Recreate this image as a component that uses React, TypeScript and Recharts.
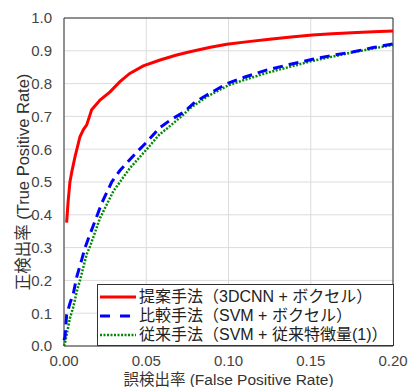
import React from "react";
import {
  LineChart,
  Line,
  XAxis,
  YAxis,
  CartesianGrid,
  ReferenceArea,
} from "recharts";

// ROC曲線のデータ (FPR, TPR)
const proposedFpr = [0.0016, 0.0025, 0.0036, 0.0047, 0.0067, 0.0097, 0.0118, 0.0138, 0.0155, 0.0168, 0.0219, 0.028, 0.034, 0.04, 0.0482, 0.0584, 0.0685, 0.0766, 0.089, 0.099, 0.112, 0.125, 0.138, 0.151, 0.163, 0.175, 0.188, 0.2];
const proposedTpr = [0.376, 0.44, 0.5, 0.53, 0.577, 0.638, 0.66, 0.674, 0.7, 0.72, 0.75, 0.775, 0.806, 0.831, 0.854, 0.872, 0.887, 0.897, 0.911, 0.92, 0.928, 0.935, 0.942, 0.948, 0.952, 0.955, 0.958, 0.96];

const svmVoxelFpr = [0.0, 0.0006, 0.0016, 0.0036, 0.0057, 0.0077, 0.0107, 0.0128, 0.015, 0.0188, 0.0229, 0.029, 0.034, 0.038, 0.044, 0.05, 0.058, 0.065, 0.0725, 0.08, 0.0868, 0.099, 0.11, 0.123, 0.137, 0.151, 0.163, 0.176, 0.188, 0.2];
const svmVoxelTpr = [0.018, 0.028, 0.095, 0.13, 0.16, 0.21, 0.262, 0.3, 0.33, 0.38, 0.435, 0.5, 0.535, 0.557, 0.59, 0.62, 0.665, 0.69, 0.712, 0.745, 0.765, 0.8, 0.82, 0.841, 0.858, 0.874, 0.886, 0.897, 0.91, 0.921];

const svmFeatFpr = [0.0, 0.0006, 0.0036, 0.0057, 0.0077, 0.0097, 0.0138, 0.0158, 0.0219, 0.03, 0.034, 0.04, 0.05, 0.058, 0.0624, 0.0725, 0.0766, 0.0868, 0.1, 0.112, 0.125, 0.138, 0.15, 0.163, 0.175, 0.188, 0.2];
const svmFeatTpr = [0.0, 0.009, 0.085, 0.12, 0.165, 0.2, 0.28, 0.303, 0.39, 0.472, 0.5, 0.542, 0.598, 0.645, 0.662, 0.705, 0.725, 0.76, 0.795, 0.815, 0.835, 0.852, 0.868, 0.882, 0.895, 0.907, 0.918];

const xTicks = [0, 0.05, 0.1, 0.15, 0.2];
const yTicks = [0, 0.1, 0.2, 0.3, 0.4, 0.5, 0.6, 0.7, 0.8, 0.9, 1.0];

const seriesNames = [
  "提案手法（3DCNN + ボクセル）",
  "比較手法（SVM + ボクセル）",
  "従来手法（SVM + 従来特徴量(1)）",
];

const toPoints = (xs: number[], ys: number[]) => xs.map((x, i) => ({ x, y: ys[i] }));

const FONT = "'Liberation Sans', 'Noto Sans CJK JP', sans-serif";

const legendItems = [
  { name: seriesNames[0], color: "#ff0000", dash: undefined, width: 3 },
  { name: seriesNames[1], color: "#0000ff", dash: "10 10", width: 3 },
  { name: seriesNames[2], color: "#008a00", dash: "2 1.5", width: 2.5 },
];

const LegendBox = () => (
  <div
    style={{
      position: "absolute",
      left: 97,
      top: 284,
      width: 297,
      height: 62,
      boxSizing: "border-box",
      background: "#fff",
      border: "1px solid #333",
      padding: "2px 2px",
      fontFamily: FONT,
      fontSize: 16,
      color: "#222",
      lineHeight: "19px",
      whiteSpace: "nowrap",
    }}
  >
    {legendItems.map((it) => (
      <div key={it.name} style={{ display: "flex", alignItems: "center" }}>
        <svg width={36} height={10} style={{ marginRight: 3 }}>
          <line x1={0} y1={5} x2={36} y2={5} stroke={it.color} strokeWidth={it.width} strokeDasharray={it.dash} />
        </svg>
        <span>{it.name}</span>
      </div>
    ))}
  </div>
);

export default function App() {
  return (
    <div style={{ position: "absolute", left: 0, top: 0, width: 411, height: 387, background: "#fff" }}>
      <LineChart width={411} height={387} margin={{ top: 18, right: 18, bottom: 0, left: 8 }}>
        <CartesianGrid stroke="#dcdcdc" />
        <XAxis
          dataKey="x"
          type="number"
          domain={[0, 0.2]}
          ticks={xTicks}
          tickFormatter={(v: number) => v.toFixed(2)}
          height={41}
          tickLine={false}
          axisLine={false}
          tickMargin={3}
          tick={{ fill: "#444", fontSize: 15, fontFamily: FONT }}
          allowDuplicatedCategory={false}
          label={{
            value: "誤検出率 (False Positive Rate)",
            position: "insideBottom",
            offset: 2.5,
            fontSize: 15.5,
            style: { fill: "#333", fontSize: 15.5, fontFamily: FONT },
          }}
        />
        <YAxis
          type="number"
          domain={[0, 1]}
          ticks={yTicks}
          tickFormatter={(v: number) => v.toFixed(1)}
          width={56}
          tickLine={false}
          axisLine={false}
          tickMargin={6}
          tick={{ fill: "#444", fontSize: 15, fontFamily: FONT }}
          label={{
            value: "正検出率 (True Positive Rate)",
            angle: -90,
            position: "insideLeft",
            offset: 15,
            fontSize: 16.5,
            style: { textAnchor: "middle", fill: "#333", fontSize: 16.5, fontFamily: FONT },
          }}
        />
        <ReferenceArea x1={0} x2={0.2} y1={0} y2={1} fill="none" stroke="#333" strokeWidth={1} ifOverflow="visible" />
        <Line
          data={toPoints(svmFeatFpr, svmFeatTpr)}
          dataKey="y"
          name={seriesNames[2]}
          stroke="#008a00"
          strokeWidth={2.5}
          strokeDasharray="2 1.5"
          dot={false}
          type="linear"
          isAnimationActive={false}
        />
        <Line
          data={toPoints(svmVoxelFpr, svmVoxelTpr)}
          dataKey="y"
          name={seriesNames[1]}
          stroke="#0000ff"
          strokeWidth={3}
          strokeDasharray="10 6"
          dot={false}
          type="linear"
          isAnimationActive={false}
        />
        <Line
          data={toPoints(proposedFpr, proposedTpr)}
          dataKey="y"
          name={seriesNames[0]}
          stroke="#ff0000"
          strokeWidth={3}
          dot={false}
          type="linear"
          isAnimationActive={false}
        />
      </LineChart>
      <LegendBox />
    </div>
  );
}
